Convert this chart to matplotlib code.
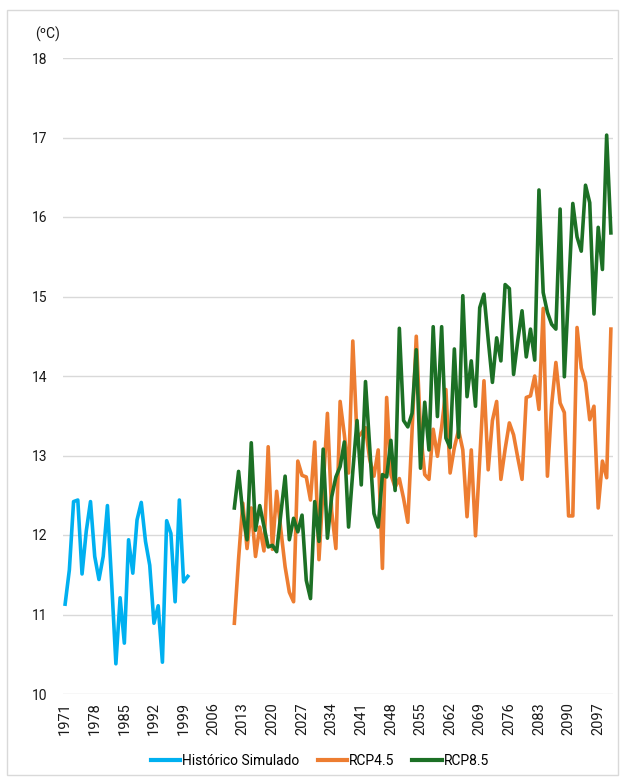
import matplotlib
matplotlib.use("Agg")
import matplotlib.pyplot as plt
from matplotlib.patches import Rectangle

plt.rcParams['font.family'] = ['Roboto', 'DejaVu Sans']

hist_years = list(range(1971, 2001))
hist_vals = [11.13, 11.56, 12.42, 12.44, 11.51, 12.05, 12.42, 11.73, 11.44, 11.73,
             12.37, 11.40, 10.38, 11.21, 10.64, 11.94, 11.52, 12.19, 12.41, 11.92,
             11.62, 10.89, 11.11, 10.40, 12.18, 12.02, 11.16, 12.44, 11.41, 11.48]

fut_years = list(range(2011, 2101))
rcp45 = [10.89, 11.70, 12.40, 11.83, 12.34, 11.73, 12.10, 11.80, 13.11, 11.82,
         12.55, 12.06, 11.60, 11.28, 11.16, 12.93, 12.75, 12.73, 12.44, 13.17,
         11.69, 12.60, 13.53, 12.30, 11.83, 13.68, 13.26, 12.78, 14.44, 13.22,
         13.28, 13.35, 12.95, 12.74, 13.07, 11.58, 13.73, 12.76, 12.60, 12.71,
         12.46, 12.16, 13.30, 14.50, 13.30, 12.76, 12.70, 13.33, 12.99, 13.36,
         13.83, 12.78, 13.10, 13.32, 13.07, 12.23, 13.07, 11.99, 12.95, 13.94,
         12.82, 13.44, 13.68, 12.70, 13.08, 13.41, 13.26, 12.97, 12.70, 13.73,
         13.75, 14.00, 13.58, 14.85, 12.74, 13.64, 14.17, 13.66, 13.54, 12.24,
         12.24, 14.61, 14.10, 13.92, 13.45, 13.62, 12.34, 12.93, 12.72, 14.59]
rcp85 = [12.34, 12.80, 12.27, 11.94, 13.16, 12.06, 12.37, 12.11, 11.85, 11.87,
         11.79, 12.27, 12.74, 11.94, 12.21, 12.04, 12.25, 11.43, 11.20, 12.42,
         11.92, 13.08, 11.96, 12.48, 12.73, 12.86, 13.17, 12.10, 12.80, 13.44,
         12.63, 13.93, 13.10, 12.27, 12.10, 12.76, 12.73, 13.19, 12.56, 14.60,
         13.44, 13.36, 13.53, 14.33, 12.84, 13.67, 13.07, 14.62, 13.49, 14.62,
         13.22, 13.10, 14.34, 13.23, 15.01, 13.74, 14.19, 13.62, 14.86, 15.03,
         14.46, 13.92, 14.48, 14.19, 15.15, 15.10, 14.02, 14.45, 14.82, 14.24,
         14.59, 14.20, 16.34, 15.05, 14.80, 14.65, 14.59, 16.10, 13.99, 15.07,
         16.17, 15.75, 15.57, 16.40, 16.18, 14.78, 15.87, 15.34, 17.03, 15.80]

tick_years = list(range(1971, 2101, 7))
y_ticks = [10, 11, 12, 13, 14, 15, 16, 17, 18]

fig = plt.figure(figsize=(6.25, 7.80), dpi=100)
fig.patches.append(Rectangle((7/625, 5/780), 611/625, 765/780, transform=fig.transFigure,
                             fill=False, edgecolor='#D9D9D9', linewidth=1))
ax = fig.add_axes([63/625, 86/780, 550/625, 636/780])

ax.plot(hist_years, hist_vals, color='#00B0F0', lw=2.6, label='Histórico Simulado',
        solid_joinstyle='round')
ax.plot(fut_years, rcp45, color='#ED7D31', lw=2.6, label='RCP4.5', solid_joinstyle='round')
ax.plot(fut_years, rcp85, color='#1C7025', lw=2.6, label='RCP8.5', solid_joinstyle='round')

ax.set_xlim(1970.5, 2100.5)
ax.set_ylim(10, 18)
ax.set_yticks(y_ticks)
ax.set_yticklabels([str(v) for v in y_ticks], fontsize=10, color='#1a1a1a')
ax.set_xticks(tick_years)
ax.set_xticklabels([str(v) for v in tick_years], rotation=90, fontsize=10.5, color='#1a1a1a')
ax.tick_params(axis='both', length=0)
ax.tick_params(axis='y', pad=11)
ax.tick_params(axis='x', pad=6)
ax.grid(axis='y', color='#D9D9D9', linewidth=1)
ax.set_axisbelow(True)
for s in ax.spines.values():
    s.set_visible(False)

fig.text(35/625, 1 - 34/780, '(ºC)', fontsize=10, color='#1a1a1a', va='center', ha='left')

leg = fig.legend(loc='center', bbox_to_anchor=(320/625, 19/780), ncol=3, frameon=False,
                 fontsize=10, handlelength=2.1, handletextpad=0.15, columnspacing=1.3)
for line in leg.get_lines():
    line.set_linewidth(3)

fig.savefig('out.png', dpi=100)
